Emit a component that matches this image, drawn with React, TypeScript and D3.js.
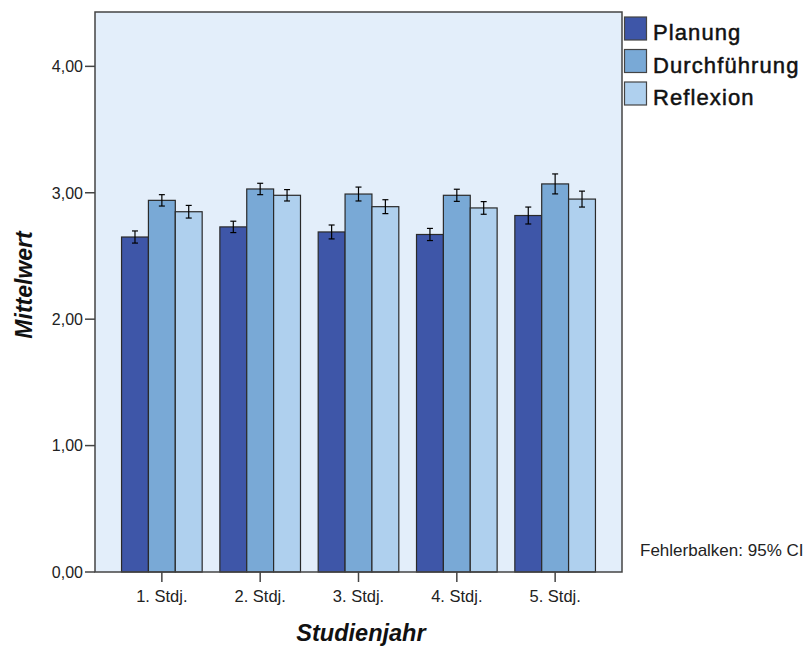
import { useMemo } from "react";
import * as d3 from "d3";

const WIDTH = 806;
const HEIGHT = 649;
const PLOT = { left: 95, top: 12, right: 622, bottom: 572 };

const categories = ["1. Stdj.", "2. Stdj.", "3. Stdj.", "4. Stdj.", "5. Stdj."];
const seriesNames = ["Planung", "Durchführung", "Reflexion"];
const seriesColors = ["#3e56a8", "#79a9d6", "#afd0ee"];

// means per series (one value per Studienjahr)
const planung = [2.65, 2.73, 2.69, 2.67, 2.82];
const durchfuehrung = [2.94, 3.03, 2.99, 2.98, 3.07];
const reflexion = [2.85, 2.98, 2.89, 2.88, 2.95];

// 95% CI half-widths
const planungCI = [0.048, 0.045, 0.055, 0.048, 0.067];
const durchfuehrungCI = [0.045, 0.045, 0.055, 0.048, 0.079];
const reflexionCI = [0.05, 0.045, 0.055, 0.05, 0.063];

const yTicks = [0, 1, 2, 3, 4];

export default function App() {
  const means = [planung, durchfuehrung, reflexion];
  const cis = [planungCI, durchfuehrungCI, reflexionCI];

  const xScale = useMemo(
    () =>
      d3
        .scaleBand()
        .domain(categories)
        .range([PLOT.left, PLOT.right])
        .paddingInner(0.18)
        .paddingOuter(0.27),
    []
  );
  const innerScale = d3
    .scaleBand()
    .domain(seriesNames)
    .range([0, xScale.bandwidth()]);
  const yScale = d3.scaleLinear().domain([0, 4.43]).range([PLOT.bottom, PLOT.top]);

  const fmt = (v: number) => d3.format(".2f")(v).replace(".", ",");
  const font = "'Liberation Sans', Arial, sans-serif";

  // bars + error bars
  const bars = categories.map((cat, ci) =>
    seriesNames.map((s, si) => {
      const x = (xScale(cat) as number) + (innerScale(s) as number);
      const w = innerScale.bandwidth();
      const m = means[si][ci];
      const e = cis[si][ci];
      const cx = x + w / 2;
      return (
        <g key={cat + s}>
          <rect
            x={x}
            y={yScale(m)}
            width={w}
            height={yScale(0) - yScale(m)}
            fill={seriesColors[si]}
            stroke="#2a2a2a"
            strokeWidth={1.2}
          />
          <line x1={cx} x2={cx} y1={yScale(m + e)} y2={yScale(m - e)} stroke="#000" strokeWidth={1.2} />
          <line x1={cx - 3} x2={cx + 3} y1={yScale(m + e)} y2={yScale(m + e)} stroke="#000" strokeWidth={1.2} />
          <line x1={cx - 3} x2={cx + 3} y1={yScale(m - e)} y2={yScale(m - e)} stroke="#000" strokeWidth={1.2} />
        </g>
      );
    })
  );

  return (
    <div style={{ position: "absolute", left: 0, top: 0 }}>
      <svg width={WIDTH} height={HEIGHT} style={{ display: "block", background: "#fff" }}>
        <rect
          x={PLOT.left}
          y={PLOT.top}
          width={PLOT.right - PLOT.left}
          height={PLOT.bottom - PLOT.top}
          fill="#e3eefa"
        />
        {bars}
        <rect
          x={PLOT.left}
          y={PLOT.top}
          width={PLOT.right - PLOT.left}
          height={PLOT.bottom - PLOT.top}
          fill="none"
          stroke="#444"
          strokeWidth={1.5}
        />

        {/* y axis */}
        {yTicks.map((t) => (
          <g key={t}>
            <line x1={PLOT.left - 10} x2={PLOT.left} y1={yScale(t)} y2={yScale(t)} stroke="#444" strokeWidth={1.5} />
            <text
              x={PLOT.left - 12}
              y={yScale(t)}
              dy="0.36em"
              textAnchor="end"
              fontFamily={font}
              fontSize={16}
              fill="#222"
            >
              {fmt(t)}
            </text>
          </g>
        ))}

        {/* x axis */}
        {categories.map((c) => {
          const cx = (xScale(c) as number) + xScale.bandwidth() / 2;
          return (
            <g key={c}>
              <line x1={cx} x2={cx} y1={PLOT.bottom} y2={PLOT.bottom + 10} stroke="#444" strokeWidth={1.5} />
              <text x={cx} y={602} textAnchor="middle" fontFamily={font} fontSize={16.5} fill="#222">
                {c}
              </text>
            </g>
          );
        })}

        <text
          x={361}
          y={641}
          textAnchor="middle"
          fontFamily={font}
          fontSize={23.5}
          fontStyle="italic"
          fontWeight="bold"
          fill="#111"
        >
          Studienjahr
        </text>
        <text
          transform={`translate(32,285) rotate(-90)`}
          textAnchor="middle"
          fontFamily={font}
          fontSize={23}
          fontStyle="italic"
          fontWeight="bold"
          fill="#111"
        >
          Mittelwert
        </text>

        {/* legend */}
        {seriesNames.map((s, i) => (
          <g key={s} transform={`translate(624,${17 + i * 32.5})`}>
            <rect x={0.5} y={0} width={22} height={23} fill={seriesColors[i]} stroke="#444" strokeWidth={1.2} />
            <text
              x={29}
              y={23}
              fontFamily={font}
              fontSize={22}
              letterSpacing={1.1}
              fill="#111"
              stroke="#111"
              strokeWidth={0.5}
            >
              {s}
            </text>
          </g>
        ))}

        <text x={640} y={556} fontFamily={font} fontSize={17} fill="#222">
          Fehlerbalken: 95% CI
        </text>
      </svg>
    </div>
  );
}
